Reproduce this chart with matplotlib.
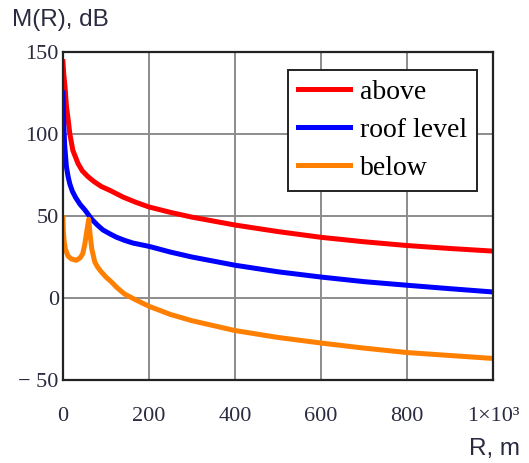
import matplotlib
matplotlib.use('Agg')
import matplotlib.pyplot as plt

# distance R, m and attenuation M(R), dB
r_above = [0, 2, 5, 8, 12, 16, 23, 35, 45, 58, 72, 89, 110, 140, 170, 200, 250, 300, 400,
           500, 600, 700, 800, 900, 1000]
m_above = [144, 136, 128, 117, 109, 100, 90, 82, 77.5, 74, 71, 68, 65.5, 61.5, 58.3, 55.5, 52.2,
           49.3, 44.5, 40.5, 37, 34.3, 32, 30.2, 28.6]

r_roof = [0, 1, 2, 4, 8, 12, 16, 22, 30, 40, 51, 67, 80, 93, 110, 125, 145, 163, 200, 250, 300,
          400, 500, 600, 700, 800, 900, 1000]
m_roof = [125, 115, 105, 93, 80, 74, 69.5, 65, 61, 57, 53.7, 48, 44.5, 41.5, 39, 37, 35, 33.5,
          31.5, 28, 25, 20, 16, 12.8, 10, 7.8, 5.7, 3.7]

r_below = [0, 1, 3, 6, 12, 20, 31, 40, 46, 51, 55, 60, 63, 67, 74, 81, 89, 100, 112, 125, 143,
           167, 200, 250, 300, 400, 500, 600, 700, 800, 900, 1000]
m_below = [49, 40, 34, 29.5, 25.5, 23.8, 23, 24.5, 27, 33, 40, 48, 39, 30, 22, 18.7, 16, 12.8,
           10, 6.5, 2.5, -0.8, -5, -10, -13.8, -19.8, -24, -27.4, -30.5, -33.2, -35, -36.8]

labels = ['above', 'roof level', 'below']
colors = ['#ff0000', '#0000ff', '#ff8000']

xticks = [0, 200, 400, 600, 800, 1000]
xtick_labels = ['0', '200', '400', '600', '800', '1×10³']
yticks = [-50, 0, 50, 100, 150]
ytick_labels = ['− 50', '0', '50', '100', '150']

fig = plt.figure(figsize=(5.29, 4.63), dpi=100)
ax = fig.add_axes([0.119, 0.179, 0.813, 0.709])

for r, m, lab, c in zip([r_above, r_roof, r_below], [m_above, m_roof, m_below], labels, colors):
    ax.plot(r, m, color=c, lw=3.6, label=lab)

ax.set_xlim(0, 1000)
ax.set_ylim(-50, 150)
ax.set_xticks(xticks)
ax.set_xticklabels(xtick_labels, family='Liberation Serif', fontsize=16, color='#2a2a40')
ax.set_yticks(yticks)
ax.set_yticklabels(ytick_labels, family='Liberation Serif', fontsize=16, color='#2a2a40')
ax.tick_params(axis='x', length=0, pad=19)
ax.tick_params(axis='y', length=0, pad=3)
ax.grid(True, color='#8c8c8c', lw=1.4)
ax.set_axisbelow(True)
for s in ax.spines.values():
    s.set_color('#222222')
    s.set_linewidth(1.6)

fig.text(0.023, 0.957, 'M(R), dB', family='Liberation Sans', fontsize=17.5,
         color='#2a2a40', va='center', ha='left')
fig.text(0.983, 0.03, 'R, m', family='Liberation Sans', fontsize=17.5,
         color='#2a2a40', va='center', ha='right')

leg = ax.legend(loc='upper left', bbox_to_anchor=(0.523, 0.945), borderaxespad=0,
                prop={'family': 'Liberation Serif', 'size': 20}, fancybox=False,
                edgecolor='#222222', framealpha=1, handlelength=1.9,
                handletextpad=0.35, labelspacing=0.45, borderpad=0.35)
leg.get_frame().set_linewidth(1.4)

fig.savefig('out.png', dpi=100)
